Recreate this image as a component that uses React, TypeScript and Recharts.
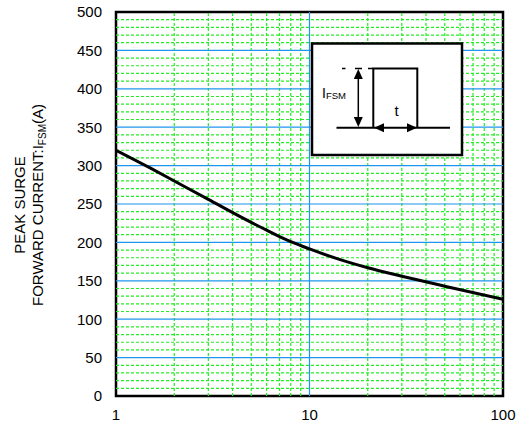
import React from "react";
import { LineChart, Line, XAxis, YAxis, ReferenceLine, ReferenceArea } from "recharts";

// Pulse width t (ms) vs. peak surge forward current IFSM (A)
const pulseWidth = [1, 1.5, 2, 3, 5, 6, 7, 8, 10, 14, 20, 30, 50, 100];
const surgeCurrent = [320, 297, 280, 256, 226, 216, 207.5, 201, 191.5, 178.5, 167, 156, 143, 126];

const xTicks = [1, 10, 100];
const yTicks = [0, 50, 100, 150, 200, 250, 300, 350, 400, 450, 500];

const minorX = [2, 3, 4, 5, 6, 7, 8, 9, 20, 30, 40, 50, 60, 70, 80, 90];
const majorX = [10];
const minorY = [
  10, 20, 30, 40, 60, 70, 80, 90, 110, 120, 130, 140, 160, 170, 180, 190,
  210, 220, 230, 240, 260, 270, 280, 290, 310, 320, 330, 340, 360, 370, 380, 390,
  410, 420, 430, 440, 460, 470, 480, 490,
];
const majorY = [50, 100, 150, 200, 250, 300, 350, 400, 450];

const data = pulseWidth.map((t, i) => ({ t, i: surgeCurrent[i] }));

const FONT = "'Liberation Sans', Arial, sans-serif";
const GREEN = "#22ee22";
const BLUE = "#1e96ee";

export default function App() {
  return (
    <div style={{ position: "absolute", left: 0, top: 0, width: 519, height: 426, background: "#fff" }}>
      <LineChart
        width={519}
        height={426}
        data={data}
        margin={{ top: 12, right: 16, bottom: 0, left: 0 }}
      >
        <XAxis
          dataKey="t"
          type="number"
          scale="log"
          domain={[1, 100]}
          ticks={xTicks}
          allowDataOverflow
          axisLine={false}
          tickLine={false}
          tickSize={11}
          tickMargin={2}
          height={30}
          tick={{ fontSize: 15, fill: "#000", fontFamily: FONT }}
        />
        <YAxis
          type="number"
          domain={[0, 500]}
          ticks={yTicks}
          axisLine={false}
          tickLine={false}
          tickSize={12}
          tickMargin={2}
          width={116}
          tick={{ fontSize: 15, fill: "#000", fontFamily: FONT }}
        />
        {minorY.map((v) => (
          <ReferenceLine key={"my" + v} y={v} stroke={GREEN} strokeWidth={1.2} strokeDasharray="3 2" />
        ))}
        {minorX.map((v) => (
          <ReferenceLine key={"mx" + v} x={v} stroke={GREEN} strokeWidth={1.2} strokeDasharray="3 2" />
        ))}
        {majorY.map((v) => (
          <ReferenceLine key={"My" + v} y={v} stroke={BLUE} strokeWidth={1.2} />
        ))}
        {majorX.map((v) => (
          <ReferenceLine key={"Mx" + v} x={v} stroke={BLUE} strokeWidth={1.2} />
        ))}
        <ReferenceArea x1={1} x2={100} y1={0} y2={500} fill="none" stroke="#000" strokeWidth={2.5} />
        <Line
          dataKey="i"
          type="monotone"
          stroke="#000"
          strokeWidth={3}
          dot={false}
          isAnimationActive={false}
        />
      </LineChart>
      <svg
        width={519}
        height={426}
        style={{ position: "absolute", left: 0, top: 0, pointerEvents: "none" }}
      >
        {/* Y axis title */}
        <text
          transform="translate(24.5,205) rotate(-90)"
          textAnchor="middle"
          fontSize={15}
          fontFamily={FONT}
          fill="#000"
        >
          PEAK SURGE
        </text>
        <text
          transform="translate(43,205) rotate(-90)"
          textAnchor="middle"
          fontSize={15}
          fontFamily={FONT}
          fill="#000"
        >
          FORWARD CURRENT:I
          <tspan fontSize={10} dy={3}>FSM</tspan>
          <tspan dy={-3}>(A)</tspan>
        </text>
        {/* Inset diagram */}
        <rect x={312} y={43.5} width={150} height={111.5} fill="#fff" stroke="#000" strokeWidth={2.5} />
        <line x1={336.5} y1={127.7} x2={450} y2={127.7} stroke="#000" strokeWidth={2} />
        <polyline
          points="373.3,127.7 373.3,68.5 417.3,68.5 417.3,127.7"
          fill="none"
          stroke="#000"
          strokeWidth={2}
        />
        <line x1={342} y1={68.5} x2={345.5} y2={68.5} stroke="#000" strokeWidth={1.5} />
        <line x1={355} y1={68.5} x2={362} y2={68.5} stroke="#000" strokeWidth={1.5} />
        <line x1={368} y1={68.5} x2={373} y2={68.5} stroke="#000" strokeWidth={1.5} />
        <line x1={358.3} y1={72} x2={358.3} y2={124} stroke="#000" strokeWidth={1.5} />
        <polygon points="358.3,69 353.8,79 362.8,79" fill="#000" />
        <polygon points="358.3,127 353.8,117 362.8,117" fill="#000" />
        <polygon points="374,127.7 384,123.2 384,132.2" fill="#000" />
        <polygon points="417,127.7 407,123.2 407,132.2" fill="#000" />
        <text x={322} y={98.3} fontSize={14} fontFamily={FONT} fill="#000">
          I<tspan fontSize={9.5} dy={1}>FSM</tspan>
        </text>
        <text x={396.7} y={115.7} textAnchor="middle" fontSize={15} fontFamily={FONT} fill="#000">
          t
        </text>
      </svg>
    </div>
  );
}
